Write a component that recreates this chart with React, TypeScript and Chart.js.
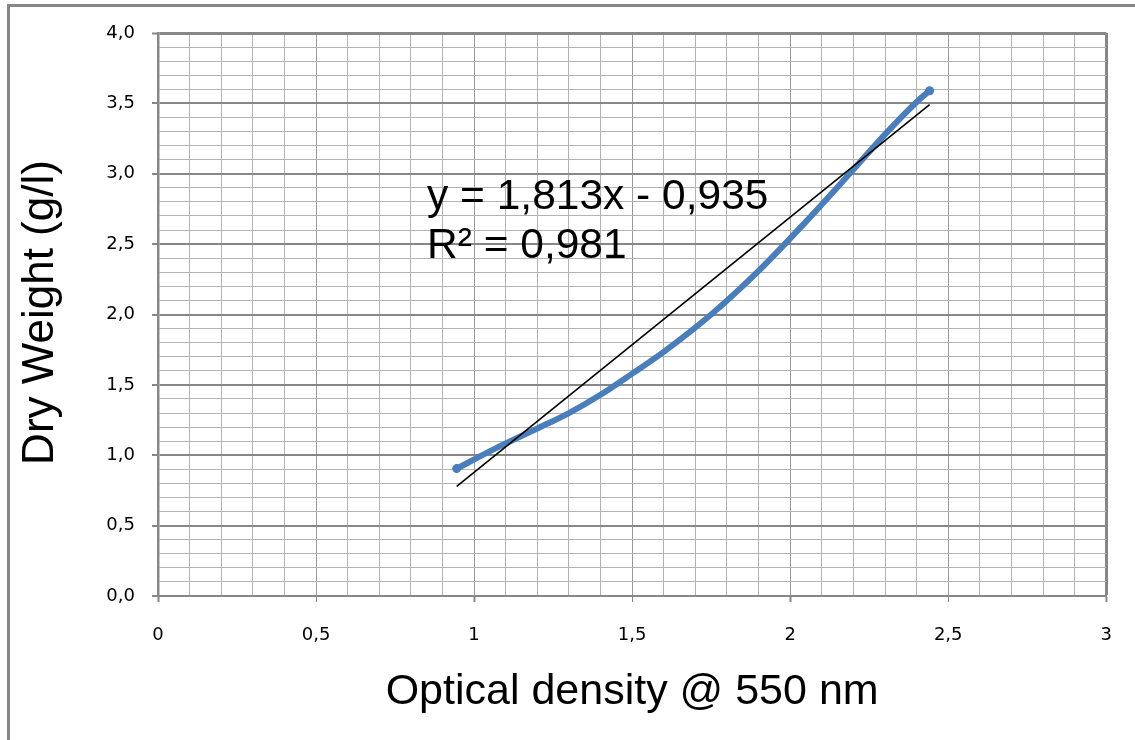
import React, { useEffect, useRef } from 'react';
import { Chart, registerables } from 'chart.js';

Chart.register(...registerables);

// Measured calibration: optical density vs. dry weight
const opticalDensity = [0.945, 1.06, 1.2, 1.3, 1.4, 1.5, 1.6, 1.75, 1.9, 2.05, 2.2, 2.3, 2.4, 2.441];
const dryWeight = [0.905, 1.04, 1.19, 1.3, 1.43, 1.58, 1.735, 2.0, 2.31, 2.66, 3.03, 3.28, 3.51, 3.59];

// Linear trend line fitted to the data
const trendSlope = 1.813;
const trendIntercept = -0.935;
const rSquared = 0.981;

const xTickLabels = ['0', '0,5', '1', '1,5', '2', '2,5', '3'];
const yTickLabels = ['0,0', '0,5', '1,0', '1,5', '2,0', '2,5', '3,0', '3,5', '4,0'];

const xTitle = 'Optical density @ 550 nm';
const yTitle = 'Dry Weight (g/l)';

const W = 1135;
const H = 740;

const BLUE = '#4a7ebb';
const MAJOR = '#878787';
const MINOR = '#b3b3b3';
const TITLE_FONT = '"Liberation Sans", Arial, sans-serif';

const comma = (v: number, digits: number) => v.toFixed(digits).replace('.', ',');
const isMajor = (v: number) => Math.abs(v * 2 - Math.round(v * 2)) < 1e-6;
const isWhole = (v: number) => Math.abs(v - Math.round(v)) < 1e-6;
const tenths = (max: number) => Array.from({ length: Math.round(max * 10) + 1 }, (_, i) => ({ value: i / 10 }));

const decorations = {
  id: 'decorations',
  beforeDraw(chart: any) {
    const ctx = chart.ctx;
    ctx.save();
    ctx.fillStyle = '#ffffff';
    ctx.fillRect(0, 0, chart.width, chart.height);
    ctx.restore();
  },
  afterDraw(chart: any) {
    const { ctx, chartArea } = chart;
    ctx.save();
    // outer frame
    ctx.fillStyle = MAJOR;
    ctx.fillRect(7, 4, 3, chart.height);
    ctx.fillRect(7, 4, chart.width, 3);

    ctx.fillStyle = '#000000';
    ctx.textBaseline = 'alphabetic';

    // trend line equation
    ctx.font = `42.5px ${TITLE_FONT}`;
    ctx.textAlign = 'left';
    const sign = trendIntercept < 0 ? '-' : '+';
    ctx.fillText(`y = ${comma(trendSlope, 3)}x ${sign} ${comma(Math.abs(trendIntercept), 3)}`, 427, 209);
    ctx.fillText(`R² = ${comma(rSquared, 3)}`, 427, 258);

    // axis titles
    ctx.font = `43px ${TITLE_FONT}`;
    ctx.textAlign = 'center';
    ctx.fillText(xTitle, (chartArea.left + chartArea.right) / 2, 704);
    ctx.font = `44px ${TITLE_FONT}`;
    ctx.translate(53, (chartArea.top + chartArea.bottom) / 2 - 2);
    ctx.rotate(-Math.PI / 2);
    ctx.fillText(yTitle, 0, 0);
    ctx.restore();
  },
};

export default function App() {
  const canvasRef = useRef<HTMLCanvasElement | null>(null);

  useEffect(() => {
    const canvas = canvasRef.current;
    if (!canvas) return;

    const x0 = opticalDensity[0];
    const x1 = opticalDensity[opticalDensity.length - 1];
    const trendPoints = [x0, x1].map((x) => ({ x, y: trendSlope * x + trendIntercept }));
    const curvePoints = opticalDensity.map((x, i) => ({ x, y: dryWeight[i] }));
    const lastIndex = curvePoints.length - 1;

    const tickFont = { family: '"DejaVu Sans", sans-serif', size: 18 };

    const chart = new Chart(canvas, {
      type: 'scatter',
      data: {
        datasets: [
          {
            label: 'Linear trend',
            data: trendPoints,
            showLine: true,
            borderColor: '#000000',
            borderWidth: 1.6,
            pointRadius: 0,
            tension: 0,
          },
          {
            label: 'Dry weight',
            data: curvePoints,
            showLine: true,
            borderColor: BLUE,
            backgroundColor: BLUE,
            borderWidth: 6,
            cubicInterpolationMode: 'monotone',
            pointRadius: (c: any) => (c.dataIndex === 0 || c.dataIndex === lastIndex ? 4.5 : 0),
            pointBorderWidth: 0,
            pointBackgroundColor: BLUE,
          },
        ],
      },
      options: {
        animation: false,
        responsive: false,
        devicePixelRatio: 1,
        layout: { padding: { left: 0, top: 33, right: W - 1107, bottom: 0 } },
        plugins: {
          legend: { display: false },
          tooltip: { enabled: false },
        },
        scales: {
          x: {
            type: 'linear',
            min: 0,
            max: 3,
            afterBuildTicks: (s: any) => {
              s.ticks = tenths(3);
            },
            afterFit: (s: any) => {
              s.height = H - 596;
            },
            ticks: {
              autoSkip: false,
              maxRotation: 0,
              padding: 23,
              color: '#000000',
              font: tickFont,
              callback: (v: any) => (isMajor(Number(v)) ? xTickLabels[Math.round(Number(v) * 2)] : ''),
            },
            grid: {
              color: (c: any) => {
                const v = c.tick?.value ?? 0;
                if (Math.abs(v - 3) < 1e-6) return MAJOR;
                return isMajor(v) ? '#9a9a9a' : MINOR;
              },
              lineWidth: (c: any) => (Math.abs((c.tick?.value ?? 0) - 3) < 1e-6 ? 3 : 1),
              tickLength: 6,
              tickColor: (c: any) => (isMajor(c.tick?.value ?? 0) ? MAJOR : 'rgba(0,0,0,0)'),
              tickWidth: (c: any) => (isWhole(c.tick?.value ?? 0) ? 2 : 1),
            },
            border: { display: true, color: MAJOR, width: 2 },
          },
          y: {
            type: 'linear',
            min: 0,
            max: 4,
            afterBuildTicks: (s: any) => {
              s.ticks = tenths(4);
            },
            afterFit: (s: any) => {
              s.width = 158;
            },
            ticks: {
              autoSkip: false,
              padding: 17,
              color: '#000000',
              font: tickFont,
              callback: (v: any) => (isMajor(Number(v)) ? yTickLabels[Math.round(Number(v) * 2)] : ''),
            },
            grid: {
              color: (c: any) => (isMajor(c.tick?.value ?? 0) ? MAJOR : MINOR),
              lineWidth: (c: any) => {
                const v = c.tick?.value ?? 0;
                if (Math.abs(v - 4) < 1e-6) return 3;
                return isMajor(v) ? 2 : 1;
              },
              tickLength: 6,
              tickColor: (c: any) => (isMajor(c.tick?.value ?? 0) ? MAJOR : 'rgba(0,0,0,0)'),
              tickWidth: 2,
            },
            border: { display: true, color: MAJOR, width: 2.5 },
          },
        },
      },
      plugins: [decorations],
    } as any);

    return () => chart.destroy();
  }, []);

  return (
    <div style={{ position: 'fixed', left: 0, top: 0, width: W, height: H, background: '#ffffff' }}>
      <canvas ref={canvasRef} width={W} height={H} style={{ display: 'block', width: W, height: H }} />
    </div>
  );
}
